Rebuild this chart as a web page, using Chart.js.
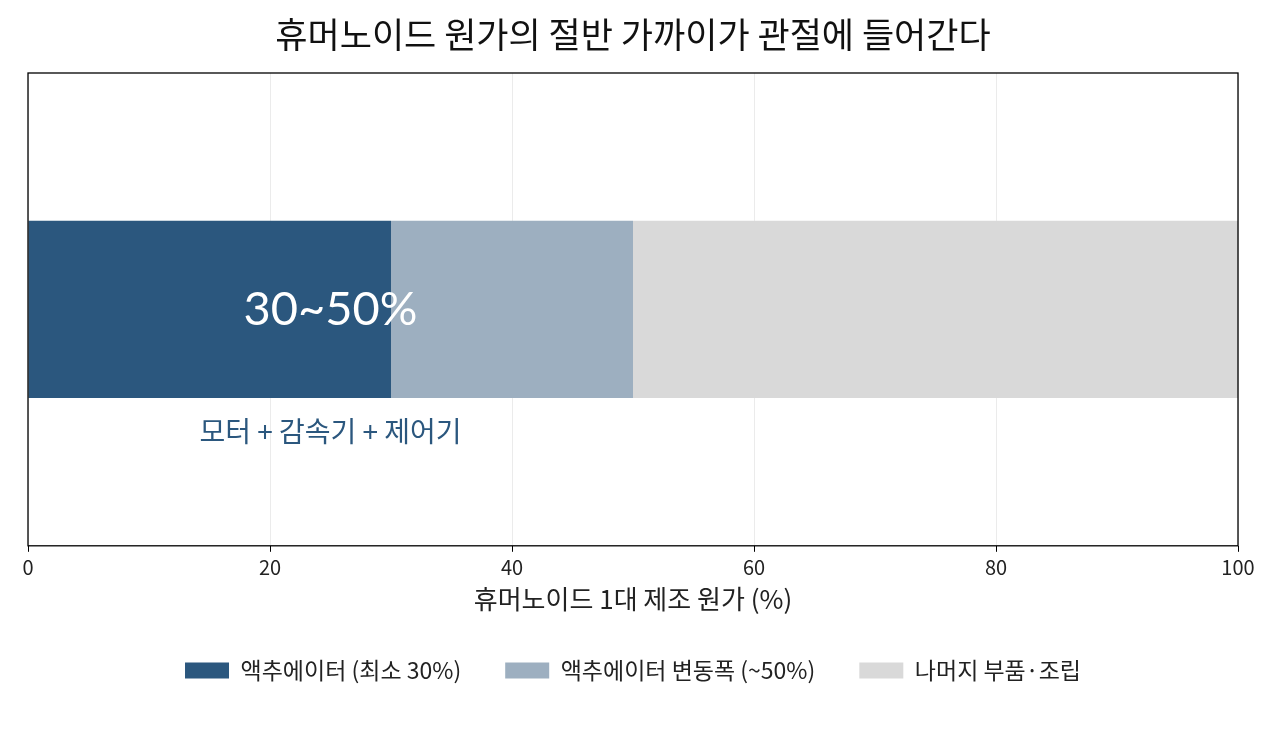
<!DOCTYPE html>
<html><head><meta charset="utf-8">
<script src="https://cdn.jsdelivr.net/npm/chart.js@4.4.1/dist/chart.umd.min.js"></script>
<style>
html,body{margin:0;padding:0;background:#fff;}
#wrap{width:1280px;height:740px;}
</style></head>
<body><div id="wrap"><canvas id="c" width="1280" height="740"></canvas></div>
<script>
const categories = ["휴머노이드"];
const seriesNames = ["액추에이터 (최소 30%)", "액추에이터 변동폭 (~50%)", "나머지 부품·조립"];
const actuatorMin = [30];
const actuatorRange = [20];
const rest = [50];
const xTicks = [0, 20, 40, 60, 80, 100];
const annotationValue = 25;
const annotationBig = "30~50%";
const annotationSmall = "모터 + 감속기 + 제어기";
const titleText = "휴머노이드 원가의 절반 가까이가 관절에 들어간다";
const xTitle = "휴머노이드 1대 제조 원가 (%)";

const KFONT = "'Noto Sans CJK KR', 'Noto Sans', sans-serif";

const annot = {
  id: 'annot',
  afterDraw(chart) {
    const ctx = chart.ctx;
    const a = chart.chartArea;
    const xs = chart.scales.x;
    const bar = chart.getDatasetMeta(0).data[0];
    const cx = xs.getPixelForValue(annotationValue);
    ctx.save();
    ctx.textAlign = 'center';
    ctx.textBaseline = 'middle';
    ctx.fillStyle = '#ffffff';
    ctx.font = "47px Lato, 'Noto Sans', sans-serif";
    ctx.fillText(annotationBig, cx, bar.y);
    ctx.fillStyle = '#2b577e';
    ctx.font = "28px " + KFONT;
    ctx.fillText(annotationSmall, cx, bar.y + bar.height / 2 + 33);
    ctx.strokeStyle = '#000';
    ctx.lineWidth = 1.3;
    ctx.strokeRect(a.left, a.top, a.right - a.left, a.bottom - a.top);
    ctx.restore();
  }
};

new Chart(document.getElementById('c'), {
  type: 'bar',
  data: {
    labels: categories,
    datasets: [
      { label: seriesNames[0], data: actuatorMin, backgroundColor: '#2b577e' },
      { label: seriesNames[1], data: actuatorRange, backgroundColor: '#9dafc0' },
      { label: seriesNames[2], data: rest, backgroundColor: '#d9d9d9' }
    ]
  },
  options: {
    indexAxis: 'y',
    responsive: false,
    animation: false,
    devicePixelRatio: 1,
    layout: { padding: { left: 28, right: 42, top: 0, bottom: 48 } },
    datasets: { bar: { barPercentage: 0.375, categoryPercentage: 1.0, borderWidth: 0 } },
    scales: {
      x: {
        stacked: true, min: 0, max: 100, z: 1,
        afterBuildTicks(s) { s.ticks = xTicks.map(v => ({ value: v })); },
        grid: { color: 'rgba(205,205,205,0.4)', tickColor: '#000', tickLength: 6, lineWidth: 1 },
        border: { display: false },
        ticks: { color: '#222', font: { size: 20, family: KFONT }, padding: 4, maxRotation: 0 },
        title: { display: true, text: xTitle, color: '#222', font: { size: 26, family: KFONT }, padding: { top: 0, bottom: 0 } }
      },
      y: { stacked: true, display: false }
    },
    plugins: {
      title: { display: true, text: titleText, color: '#111', font: { size: 35, family: KFONT, weight: 'normal' }, padding: { top: 14, bottom: 17 } },
      legend: {
        position: 'bottom',
        labels: { boxWidth: 44, boxHeight: 16, color: '#222', font: { size: 23, family: KFONT }, padding: 44 }
      },
      tooltip: { enabled: false }
    }
  },
  plugins: [annot]
});
</script></body></html>
